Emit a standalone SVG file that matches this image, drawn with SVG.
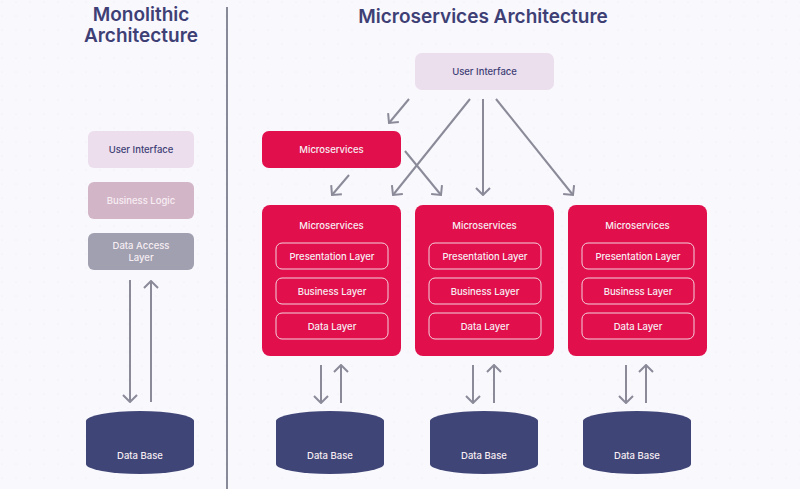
<svg xmlns="http://www.w3.org/2000/svg" width="800" height="489" viewBox="0 0 800 489">
<defs>
<style>
.title{font-family:Inter,"Noto Sans","Liberation Sans",sans-serif;font-size:19px;font-weight:600;fill:#3e4075;text-anchor:middle}
.lbl{font-family:Inter,"Noto Sans","Liberation Sans",sans-serif;font-size:9.5px;font-weight:500;text-anchor:middle;dominant-baseline:central}
.dark{fill:#3e4075}
.light{fill:#f7eef3}
.ms{fill:#e10f4c}
.inner{fill:none;stroke:#f3d3dd;stroke-width:1}
.db{fill:#3f4577}
.arr{stroke:#8a8a99;stroke-width:2;fill:none;marker-end:url(#ah)}
</style>
<marker id="ah" viewBox="0 0 16 16" refX="15" refY="8" markerWidth="16" markerHeight="16" markerUnits="userSpaceOnUse" orient="auto">
<path d="M8,1 L15,8 L8,15" fill="none" stroke="#8a8a99" stroke-width="2"/>
</marker>
<pattern id="dots" width="14" height="14" patternUnits="userSpaceOnUse">
<circle cx="2" cy="2" r="0.5" fill="#e4e2ee"/>
</pattern>
</defs>
<rect width="800" height="489" fill="#f9f8fd"/>
<rect width="800" height="489" fill="url(#dots)"/>
<line x1="227" y1="7" x2="227" y2="489" stroke="#888a99" stroke-width="2"/>
<text class="title" x="141" y="21">Monolithic</text>
<text class="title" x="141" y="42">Architecture</text>
<text class="title" x="483" y="23">Microservices Architecture</text>

<g id="mono-ui"><rect x="88" y="131" width="106" height="37" rx="6" fill="#ecdeed"/><text class="lbl dark" x="141" y="149.5">User Interface</text></g>
<g id="mono-bl"><rect x="88" y="182" width="106" height="37" rx="6" fill="#d3b5c8"/><text class="lbl light" x="141" y="200.5">Business Logic</text></g>
<g id="mono-dal"><rect x="88" y="233" width="106" height="37" rx="6" fill="#a0a0b0"/><text class="lbl light" x="141" y="245.5">Data Access</text><text class="lbl light" x="141" y="257.5">Layer</text></g>
<g id="mono-db"><path class="db" d="M86,421 A54,10 0 0 1 194,421 L194,464 A54,10 0 0 1 86,464 Z"/><text class="lbl light" x="140" y="455">Data Base</text></g>

<g id="ms-ui"><rect x="415" y="53" width="139" height="37" rx="7" fill="#ebdeed"/><text class="lbl dark" x="484.5" y="71.5">User Interface</text></g>
<g id="ms-top"><rect class="ms" x="262" y="131" width="139" height="37" rx="7"/><text class="lbl light" x="331.5" y="149.5">Microservices</text></g>

<g id="svc1"><rect class="ms" x="262" y="205" width="139" height="151" rx="8"/><text class="lbl light" x="331.5" y="225">Microservices</text>
<rect class="inner" x="276" y="243" width="112" height="26" rx="6"/><text class="lbl light" x="332" y="256">Presentation Layer</text>
<rect class="inner" x="276" y="278" width="112" height="26" rx="6"/><text class="lbl light" x="332" y="291">Business Layer</text>
<rect class="inner" x="276" y="313" width="112" height="26" rx="6"/><text class="lbl light" x="332" y="326">Data Layer</text></g>
<g id="svc2"><rect class="ms" x="415" y="205" width="139" height="151" rx="8"/><text class="lbl light" x="484.5" y="225">Microservices</text>
<rect class="inner" x="429" y="243" width="112" height="26" rx="6"/><text class="lbl light" x="485" y="256">Presentation Layer</text>
<rect class="inner" x="429" y="278" width="112" height="26" rx="6"/><text class="lbl light" x="485" y="291">Business Layer</text>
<rect class="inner" x="429" y="313" width="112" height="26" rx="6"/><text class="lbl light" x="485" y="326">Data Layer</text></g>
<g id="svc3"><rect class="ms" x="568" y="205" width="139" height="151" rx="8"/><text class="lbl light" x="637.5" y="225">Microservices</text>
<rect class="inner" x="582" y="243" width="112" height="26" rx="6"/><text class="lbl light" x="638" y="256">Presentation Layer</text>
<rect class="inner" x="582" y="278" width="112" height="26" rx="6"/><text class="lbl light" x="638" y="291">Business Layer</text>
<rect class="inner" x="582" y="313" width="112" height="26" rx="6"/><text class="lbl light" x="638" y="326">Data Layer</text></g>

<g id="db1"><path class="db" d="M276,421 A54,10 0 0 1 384,421 L384,464 A54,10 0 0 1 276,464 Z"/><text class="lbl light" x="330" y="455">Data Base</text></g>
<g id="db2"><path class="db" d="M430,421 A54,10 0 0 1 538,421 L538,464 A54,10 0 0 1 430,464 Z"/><text class="lbl light" x="484" y="455">Data Base</text></g>
<g id="db3"><path class="db" d="M583,421 A54,10 0 0 1 691,421 L691,464 A54,10 0 0 1 583,464 Z"/><text class="lbl light" x="637" y="455">Data Base</text></g>

<g id="connectors">
<line class="arr" x1="130" y1="280" x2="130" y2="402"/>
<line class="arr" x1="151" y1="402" x2="151" y2="281"/>
<line class="arr" x1="409" y1="99" x2="389" y2="123"/>
<line class="arr" x1="470" y1="99" x2="393" y2="195"/>
<line class="arr" x1="483" y1="99" x2="483" y2="195"/>
<line class="arr" x1="496" y1="99" x2="573" y2="195"/>
<line class="arr" x1="349" y1="175" x2="332" y2="195"/>
<line class="arr" x1="405" y1="151" x2="441" y2="195"/>
<line class="arr" x1="321" y1="365" x2="321" y2="403"/>
<line class="arr" x1="341" y1="403" x2="341" y2="365"/>
<line class="arr" x1="473" y1="365" x2="473" y2="403"/>
<line class="arr" x1="494" y1="403" x2="494" y2="365"/>
<line class="arr" x1="626" y1="365" x2="626" y2="403"/>
<line class="arr" x1="646" y1="403" x2="646" y2="365"/>
</g>
</svg>
